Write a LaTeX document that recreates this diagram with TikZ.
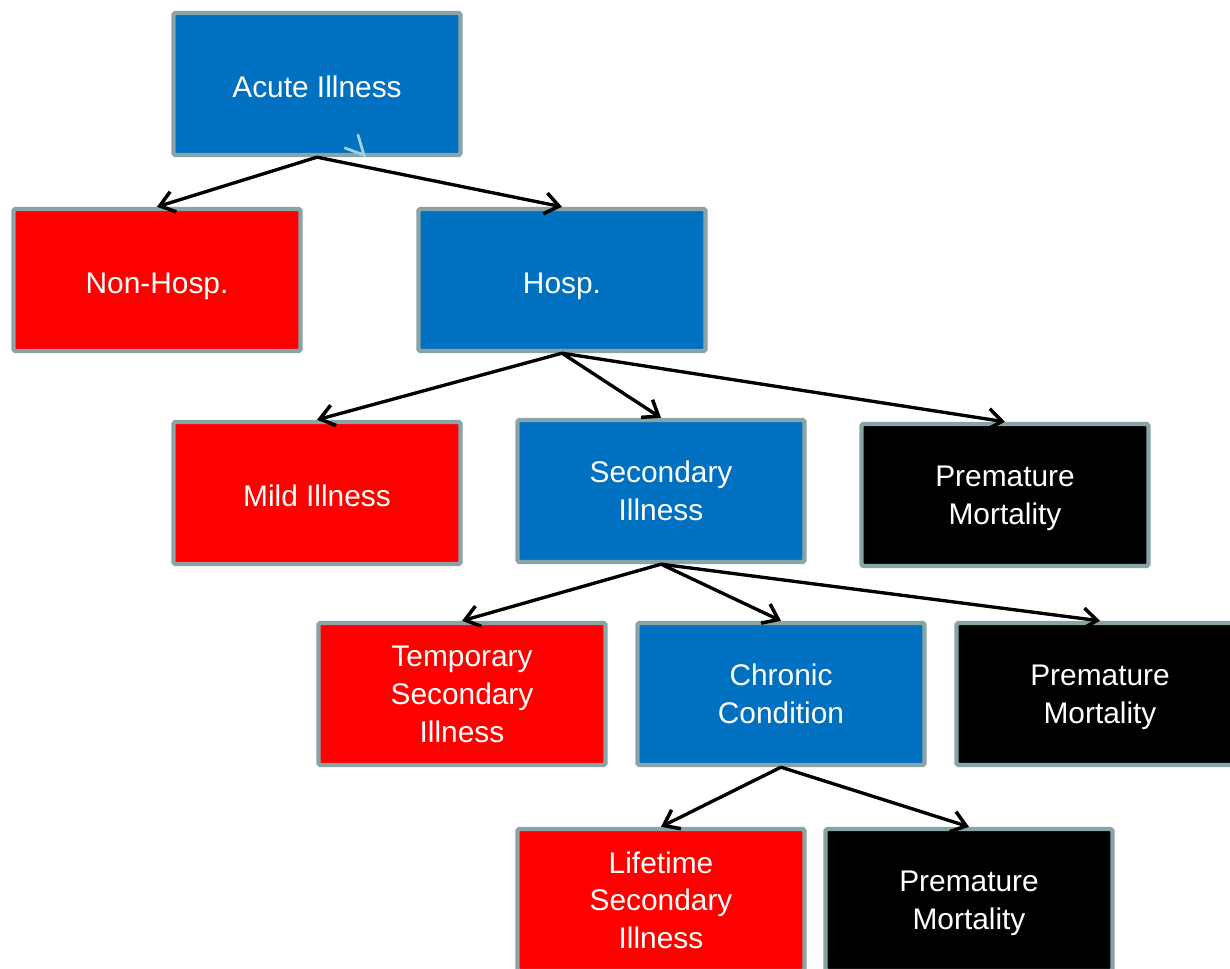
\documentclass[tikz,border=0pt]{standalone}
\usepackage{fontspec}
\setmainfont{Liberation Sans}
\usepackage{xcolor}
\usepackage{tikz}
\usetikzlibrary{arrows,arrows.meta}

\definecolor{boxblue}{HTML}{0070C0}
\definecolor{boxred}{HTML}{FF0000}
\definecolor{boxrim}{HTML}{8AA3A6}
\definecolor{strayblue}{HTML}{9DD3E0}

\begin{document}
\begin{tikzpicture}[x=0.02cm,y=-0.02cm,
  box/.style={draw=boxrim,line width=2.5pt,rounded corners=1pt,
    minimum width=5.74cm,minimum height=2.84cm,text=white,align=center,
    font=\fontsize{17}{21.5}\selectfont,text depth=0pt,
    execute at begin node={\rule{0pt}{15pt}}},
  bluebox/.style={box,fill=boxblue},
  redbox/.style={box,fill=boxred},
  blackbox/.style={box,fill=black}]
\useasboundingbox (0,0) rectangle (1230,969);

  \node[bluebox]  (A)   at (317,84)   {Acute Illness};
  \node[redbox]   (NH)  at (157,280)  {Non-Hosp.};
  \node[bluebox]  (H)   at (562,280)  {Hosp.};
  \node[redbox]   (MI)  at (317,493)  {Mild Illness};
  \node[bluebox]  (SI)  at (661,491)  {Secondary\\Illness};
  \node[blackbox] (PM1) at (1005,495) {Premature\\Mortality};
  \node[redbox]   (TS)  at (462,694)  {Temporary\\Secondary\\Illness};
  \node[bluebox]  (CC)  at (781,694)  {Chronic\\Condition};
  \node[blackbox] (PM2) at (1100,694) {Premature\\Mortality};
  \node[redbox]   (LS)  at (661,900)  {Lifetime\\Secondary\\Illness};
  \node[blackbox] (PM3) at (969,900)  {Premature\\Mortality};

  % stray tip inside the top box
  \draw[strayblue,line width=1.6pt,line cap=round] (345,148) -- (364,155) -- (358,135);

  \path[->,>={Straight Barb[length=8pt,width=12pt,line width=2pt]},line width=1.9pt]
        (A.south)  edge (NH.north)
        (A.south)  edge (H.north)
        (H.south)  edge (MI.north)
        (H.south)  edge (SI.north)
        (H.south)  edge (PM1.north)
        (SI.south) edge (TS.north)
        (SI.south) edge (CC.north)
        (SI.south) edge (PM2.north)
        (CC.south) edge (LS.north)
        (CC.south) edge (PM3.north);

\end{tikzpicture}
\end{document}
